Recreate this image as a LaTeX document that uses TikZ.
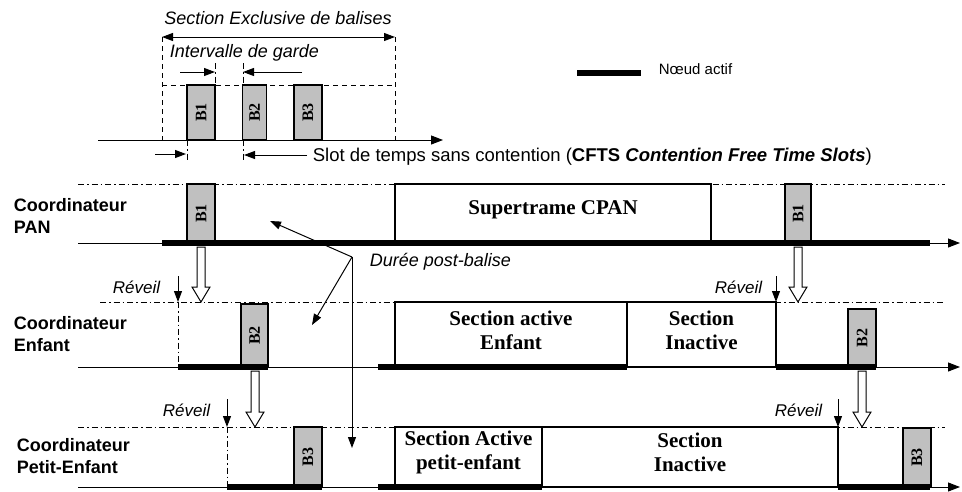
\documentclass[tikz,border=0pt]{standalone}
\usepackage{fontspec}
\setmainfont{Liberation Serif}
\setsansfont{Liberation Sans}
\usetikzlibrary{arrows.meta}
\definecolor{bgray}{RGB}{192,192,192}
\begin{document}
\begin{tikzpicture}[x=1pt,y=-1pt, line width=1pt,
  tip/.style={-{Triangle[length=11pt,width=8pt]}},
  dtip/.style={{Triangle[length=11pt,width=8pt]}-{Triangle[length=11pt,width=8pt]}},
  axis/.style={-{Triangle[length=12pt,width=9pt]}, line width=1pt},
  dashdot/.style={dash pattern=on 6pt off 3pt on 1.5pt off 3pt, line width=0.8pt},
  dashline/.style={dash pattern=on 5pt off 4pt, line width=1pt},
  active/.style={line width=6pt},
  beacon/.style={draw, fill=bgray, line width=1.1pt, rotate=90, inner sep=0pt,
    font=\bfseries\fontsize{16}{16}\selectfont},
  phase/.style={draw, fill=white, line width=1.1pt},
  phasetxt/.style={font=\bfseries\fontsize{21}{24}\selectfont, align=center},
  rowlab/.style={font=\sffamily\bfseries\fontsize{18}{22}\selectfont, align=left, anchor=west},
  itlab/.style={font=\sffamily\itshape\fontsize{18}{20}\selectfont},
  wake/.style={font=\sffamily\itshape\fontsize{17}{20}\selectfont, anchor=east},
  plain/.style={font=\sffamily\fontsize{18.5}{20}\selectfont},
  hollow/.style={draw, fill=white, line width=1pt}
]
\useasboundingbox (0,0) rectangle (962,491);

% ---------- top: beacon exclusive section ----------
\node[itlab] (sec) at (278,18) {Section Exclusive de balises};
\coordinate (sl) at (162,37);
\coordinate (sr) at (395,37);
\draw[dtip] (sl) -- (sr);
\draw[dashline] (sl) -- (162,140);
\draw[dashline] (sr) -- (395,140);
\draw[dashline] (162,85) -- (395,85);
\node[itlab, anchor=west] (garde) at (166,53) {Intervalle de garde};

\node[beacon, minimum width=55pt, minimum height=28pt] (tb1) at (201,112.5) {B1};
\node[beacon, minimum width=55pt, minimum height=24pt] (tb2) at (254.5,112.5) {B2};
\node[beacon, minimum width=55pt, minimum height=28pt] (tb3) at (308,112.5) {B3};

\coordinate (g1) at (215,72);
\coordinate (g2) at (243,72);
\draw[dashdot] (215,63) -- (215,85);
\draw[dashdot] (243,63) -- (243,85);
\draw[tip] (180,72) -- (g1);
\draw[tip] (302,72) -- (g2);

\coordinate (ta0) at (98,140);
\coordinate (ta1) at (443,140);
\draw[axis] (ta0) -- (ta1);

\draw[dashdot] (187,140) -- (187,162);
\draw[dashdot] (243,140) -- (243,162);
\draw[tip] (155,154) -- (186,154);
\draw[tip] (307,155) -- (244,155);
\node[plain, anchor=west] (cfts) at (309,157)
  {Slot de temps sans contention (\textbf{CFTS \textit{Contention Free Time Slots}})};

% legend
\coordinate (lg0) at (577,73);
\coordinate (lg1) at (641,73);
\draw[active] (lg0) -- (lg1);
\node[font=\sffamily\fontsize{15}{18}\selectfont, anchor=west] (leg) at (655,69) {Nœud actif};

% ---------- PAN coordinator ----------
\draw[dashdot] (78,184) -- (945,184);
\node[rowlab] (pan) at (10,216) {Coordinateur\\PAN};
\node[phase, minimum width=316pt, minimum height=59pt, inner sep=0pt] (sup) at (553,213.5) {};
\node[phasetxt] (supt) at (553,210) {Supertrame CPAN};
\node[beacon, minimum width=59pt, minimum height=28pt] (pb1) at (201,213.5) {B1};
\node[beacon, minimum width=59pt, minimum height=26pt] (pb1r) at (798,213.5) {B1};
\draw[axis] (78,243) -- (960,243);
\draw[active] (162,243) -- (930,243);

% ---------- Enfant coordinator ----------
\draw[dashdot] (100,302) -- (945,302);
\node[rowlab] (enf) at (10,334) {Coordinateur\\Enfant};
\node[phase, minimum width=232pt, minimum height=65pt, inner sep=0pt] (sae) at (511,334.5) {};
\node[phase, minimum width=149pt, minimum height=65pt, inner sep=0pt] (sie) at (701.5,334.5) {};
\node[phasetxt] (saet) at (511,330) {Section active\\Enfant};
\node[phasetxt] (siet) at (701.5,330) {Section\\Inactive};
\node[beacon, minimum width=63pt, minimum height=27pt] (eb2) at (254.5,335.5) {B2};
\node[beacon, minimum width=58pt, minimum height=28pt] (eb2r) at (862,338) {B2};
\draw[dashdot] (178,302) -- (178,367);
\draw[axis] (78,367) -- (960,367);
\draw[active] (178,367) -- (268,367);
\draw[active] (378,367) -- (627,367);
\draw[active] (776,367) -- (876,367);

\node[wake] (rv1) at (164,287) {Réveil};
\draw[tip] (178,276) -- (178,302);
\node[wake] (rv2) at (766,287) {Réveil};
\draw[tip] (776,276) -- (776,302);

% ---------- Petit-Enfant coordinator ----------
\draw[dashdot] (78,427) -- (945,427);
\node[rowlab] (pe) at (13,456) {Coordinateur\\Petit-Enfant};
\node[phase, minimum width=147pt, minimum height=60pt, inner sep=0pt] (sape) at (468.5,457) {};
\node[phase, minimum width=296pt, minimum height=60pt, inner sep=0pt] (sipe) at (690,457) {};
\node[phasetxt] (sapet) at (468.5,452) {Section Active\\petit-enfant};
\node[phasetxt] (sipet) at (690,452) {Section\\Inactive};
\node[beacon, minimum width=60pt, minimum height=28pt] (gb3) at (308,457) {B3};
\node[beacon, minimum width=59pt, minimum height=28pt] (gb3r) at (917,457.5) {B3};
\draw[dashdot] (227,427) -- (227,487);
\draw[axis] (78,487) -- (960,487);
\draw[active] (227,487) -- (322,487);
\draw[active] (378,487) -- (542,487);
\draw[active] (838,487) -- (930,487);

\node[wake] (rv3) at (214,410) {Réveil};
\draw[tip] (227,399) -- (227,427);
\node[wake] (rv4) at (826,410) {Réveil};
\draw[tip] (838,399) -- (838,427);

% ---------- hollow beacon-forward arrows ----------
\foreach \x/\ya/\yb in {201/247/302, 798/247/302, 255/371/427, 862/371/427}{
  \draw[hollow] (\x-4,\ya) -- (\x+4,\ya) -- (\x+4,\yb-15) -- (\x+9,\yb-15) -- (\x,\yb)
     -- (\x-9,\yb-15) -- (\x-4,\yb-15) -- cycle;
}

% ---------- post-beacon duration ----------
\node[itlab, anchor=west] (dur) at (366,262) {Durée post-balise};
\coordinate (hub) at (352,257);
\coordinate (d1) at (270,221);
\coordinate (d2) at (312,325);
\coordinate (d3) at (352,448);
\draw[tip] (hub) -- (d1);
\draw[tip] (hub) -- (d2);
\draw[tip] (hub) -- (d3);
\end{tikzpicture}
\end{document}
